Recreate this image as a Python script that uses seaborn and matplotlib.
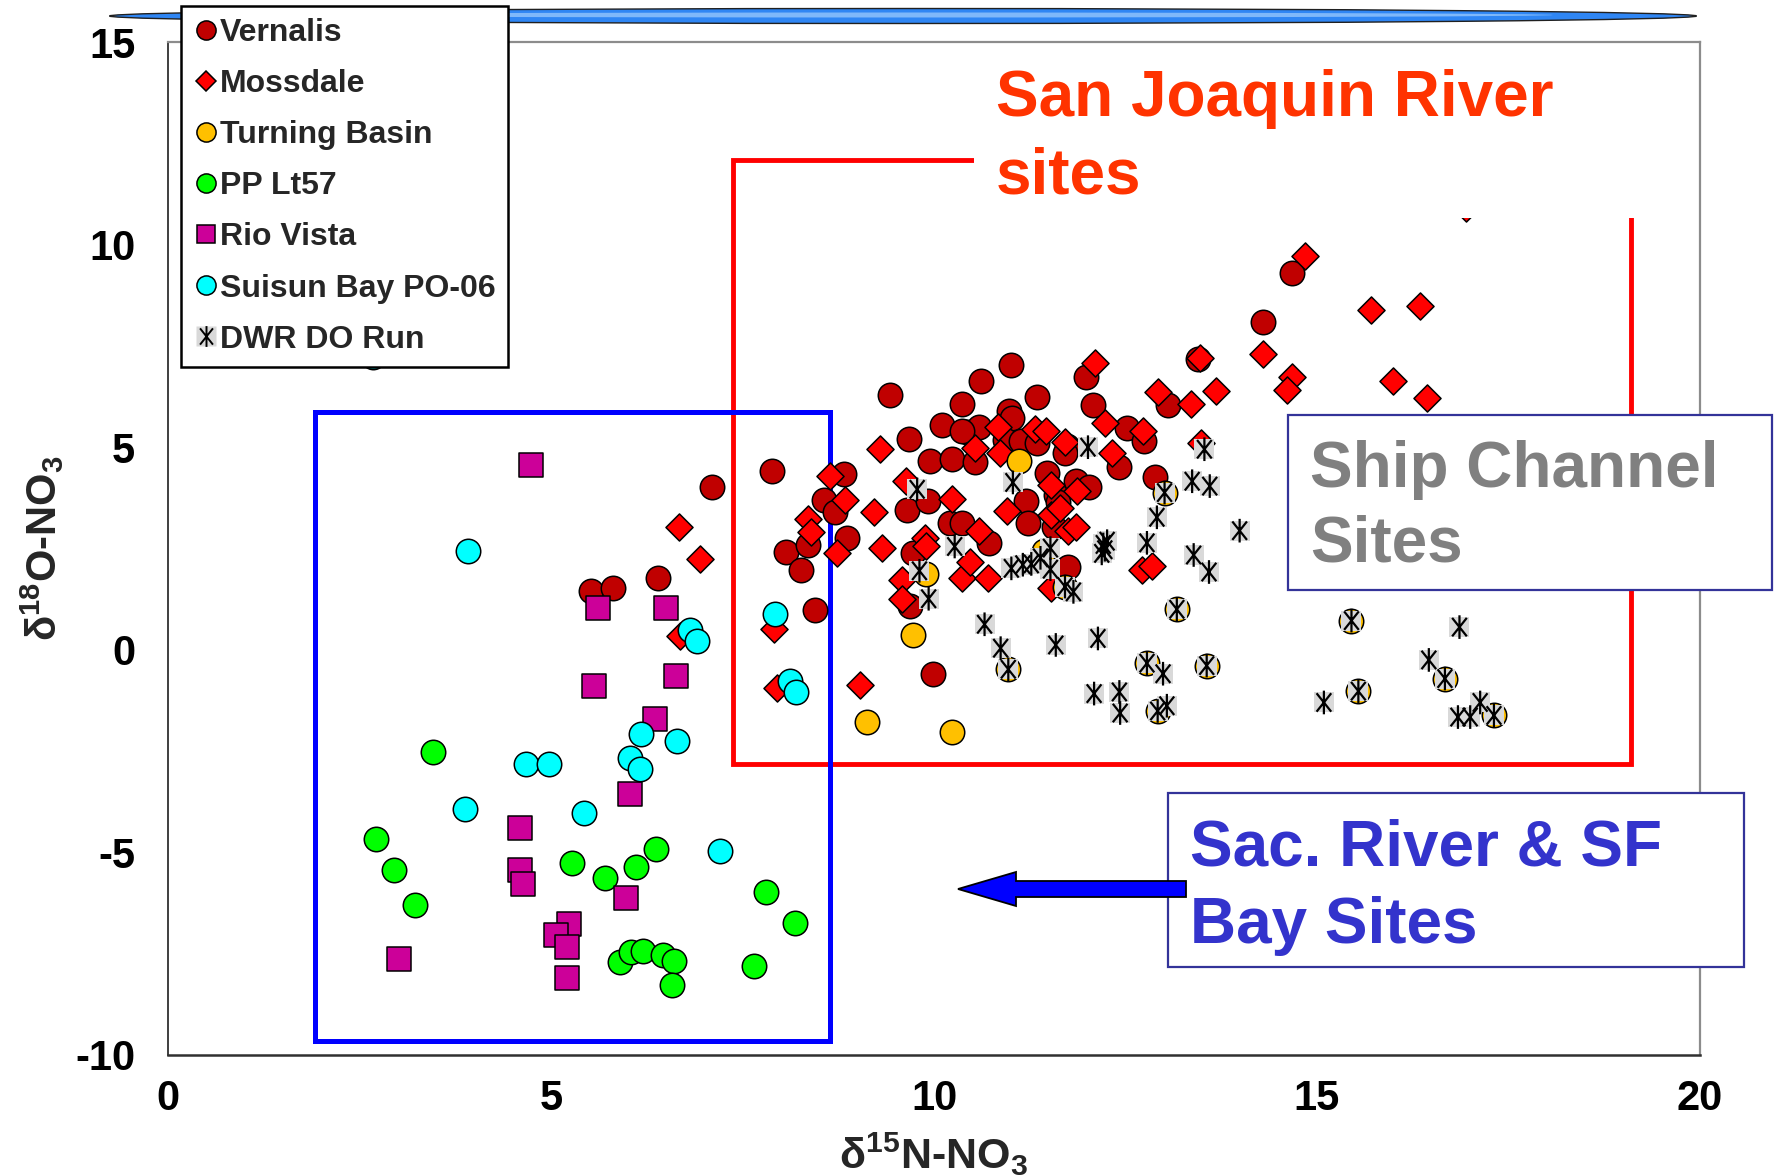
import matplotlib
matplotlib.use("Agg")
import matplotlib.pyplot as plt
import seaborn as sns
from matplotlib.patches import Rectangle, Ellipse, Polygon
from matplotlib.lines import Line2D
from matplotlib.path import Path

W, H = 1781, 1176

# ---------------- data (d15N, d18O) ----------------
vernalis_x = [5.52, 5.81, 6.40, 7.10, 7.89, 8.44, 8.07, 8.26, 8.35, 8.57, 8.71, 8.82, 8.87,
              9.42, 9.67, 9.95, 10.24, 10.54, 9.65, 9.92, 10.21, 10.36, 10.72,
              9.72, 9.69, 9.99, 10.11, 10.36, 10.61, 11.00, 10.43, 10.59, 10.36,
              10.98, 11.02, 11.34, 10.93, 11.14, 11.34, 11.73, 11.20, 11.23, 11.48,
              11.59, 11.62, 11.85, 12.03, 11.75, 11.57, 11.71, 11.98, 12.08, 12.52,
              12.41, 12.74, 13.06, 12.89, 13.45, 14.68, 14.30]
vernalis_y = [1.45, 1.53, 1.77, 4.02, 4.41, 0.97, 2.41, 1.98, 2.59, 3.69, 3.39, 4.35, 2.77,
              6.28, 5.21, 4.65, 4.72, 4.63, 3.46, 3.68, 3.13, 3.12, 2.64,
              2.38, 1.08, -0.60, 5.54, 6.06, 6.64, 7.03, 5.37, 5.50, 5.41,
              5.89, 5.73, 6.23, 5.19, 5.15, 5.11, 5.02, 3.68, 3.12, 4.37,
              3.81, 3.64, 4.16, 4.03, 2.04, 3.03, 4.85, 6.74, 6.04, 5.47,
              4.52, 5.15, 6.04, 4.27, 7.18, 9.31, 8.08]

mossdale_x = [6.67, 6.94, 7.91, 6.69, 7.95, 8.36, 8.39, 8.64, 8.84, 8.73,
              9.29, 9.22, 9.32, 9.64, 10.24, 9.88, 9.90, 9.58, 9.58, 10.36,
              10.47, 10.70, 10.59, 10.54, 10.84, 10.86, 10.95, 11.32, 11.46, 11.71,
              11.53, 11.87, 11.53, 11.64, 11.75, 11.85, 11.53, 12.10, 12.23, 12.32,
              12.73, 12.93, 13.36, 13.68, 13.49, 13.47, 12.71, 12.84, 9.04, 14.84,
              15.70, 16.34, 14.30, 14.67, 14.61, 15.99, 16.43, 16.95]
mossdale_y = [3.02, 2.25, 0.51, 0.35, -0.94, 3.22, 2.91, 4.30, 3.70, 2.38,
              4.95, 3.39, 2.51, 4.16, 3.72, 2.77, 2.55, 1.73, 1.26, 1.78,
              2.17, 1.78, 2.94, 4.98, 5.50, 4.85, 3.42, 5.45, 5.41, 5.14,
              4.07, 3.91, 3.33, 3.51, 2.94, 3.03, 1.52, 7.07, 5.59, 4.85,
              5.39, 6.37, 6.07, 6.39, 5.10, 7.20, 1.97, 2.06, -0.86, 9.73,
              8.39, 8.48, 7.30, 6.73, 6.40, 6.64, 6.21, 10.90]

turning_x = [11.11, 9.73, 9.13, 10.23, 9.90, 10.97, 11.43, 11.71, 12.78, 12.92,
             13.17, 13.01, 13.56, 15.45, 15.54, 16.67, 17.31]
turning_y = [4.65, 0.37, -1.79, -2.03, 1.86, -0.48, 2.43, 1.56, -0.33, -1.51,
             1.00, 3.88, -0.39, 0.72, -1.02, -0.71, -1.62]

pp_x = [3.46, 2.71, 2.95, 3.22, 5.28, 5.71, 6.11, 6.37, 7.81, 8.18, 7.65,
        5.90, 6.04, 6.20, 6.46, 6.60, 6.58]
pp_y = [-2.51, -4.66, -5.43, -6.29, -5.25, -5.64, -5.35, -4.91, -5.97, -6.74, -7.81,
        -7.70, -7.46, -7.44, -7.52, -7.68, -8.27]

rio_x = [4.74, 5.62, 6.50, 5.56, 6.63, 6.36, 6.03, 4.59, 4.59, 4.63, 5.98,
         5.24, 5.07, 5.21, 5.21, 3.01]
rio_y = [4.55, 1.04, 1.02, -0.90, -0.65, -1.72, -3.56, -4.40, -5.43, -5.78, -6.13,
         -6.77, -7.04, -7.34, -8.11, -7.62]

suisun_x = [2.67, 3.91, 6.81, 6.90, 7.92, 8.12, 8.20, 6.17, 6.65, 6.03, 6.16,
            4.67, 4.98, 3.88, 5.43, 7.20]
suisun_y = [7.23, 2.45, 0.48, 0.21, 0.88, -0.76, -1.04, -2.09, -2.24, -2.68, -2.95,
            -2.83, -2.83, -3.93, -4.02, -4.97]

dwr_x = [9.78, 11.03, 10.27, 9.81, 9.93, 10.66, 10.87, 10.97, 11.59, 12.14,
         12.09, 12.42, 12.43, 12.78, 12.99, 12.92, 13.04, 13.56, 13.17, 13.01,
         12.01, 13.53, 13.37, 13.60, 12.91, 12.78, 13.39, 13.59, 13.99, 12.21,
         12.23, 12.19, 12.26, 11.01, 11.16, 11.27, 11.39, 11.52, 11.52, 11.71,
         11.82, 15.45, 16.86, 16.46, 16.67, 15.54, 15.09, 17.31, 17.13, 16.84, 17.00]
dwr_y = [3.96, 4.13, 2.55, 1.95, 1.26, 0.63, 0.04, -0.48, 0.12, 0.28,
         -1.08, -1.04, -1.56, -0.33, -0.59, -1.51, -1.38, -0.39, 1.00, 3.88,
         5.00, 4.95, 4.16, 4.04, 3.27, 2.64, 2.34, 1.92, 2.94, 2.60,
         2.47, 2.38, 2.68, 2.01, 2.10, 2.12, 2.27, 2.51, 1.99, 1.56,
         1.43, 0.72, 0.56, -0.25, -0.71, -1.02, -1.30, -1.62, -1.30, -1.66, -1.66]

labels = ["Vernalis", "Mossdale", "Turning Basin", "PP Lt57", "Rio Vista",
          "Suisun Bay PO-06", "DWR DO Run"]
x_ticks = [0, 5, 10, 15, 20]
y_ticks = [-10, -5, 0, 5, 10, 15]

# ---------------- style ----------------
sns.set_style("white")
plt.rcParams["font.family"] = ["Liberation Sans", "DejaVu Sans"]
plt.rcParams["font.weight"] = "bold"
plt.rcParams["axes.unicode_minus"] = False
plt.rcParams["mathtext.fontset"] = "custom"
plt.rcParams["mathtext.rm"] = "Liberation Sans:bold"
plt.rcParams["mathtext.it"] = "Liberation Sans:bold"
plt.rcParams["mathtext.bf"] = "Liberation Sans:bold"


def fx(px):
    return px / W


def fy(py):
    return 1 - py / H


fig = plt.figure(figsize=(W / 100, H / 100), dpi=100)
fig.patch.set_facecolor("white")
ax = fig.add_axes([fx(168), fy(1055), (1700 - 168) / W, (1055 - 42) / H])

ast_path = Path([(0, -1), (0, 1), (-0.62, -0.78), (0.62, 0.78), (-0.62, 0.78), (0.62, -0.78)],
                [Path.MOVETO, Path.LINETO] * 3)

C_VER, C_MOS, C_TB, C_PP, C_RV, C_SB, C_GR = ("#C00000", "#FF0000", "#FFC000", "#00FF00",
                                              "#CC0099", "#00FFFF", "#D9D9D9")

kw = dict(ax=ax, legend=False, edgecolor="black", linewidth=1.1)
sns.scatterplot(x=vernalis_x, y=vernalis_y, marker="o", s=310, color=C_VER, zorder=3, **kw)
sns.scatterplot(x=mossdale_x, y=mossdale_y, marker="D", s=190, color=C_MOS, zorder=4, **kw)
sns.scatterplot(x=turning_x, y=turning_y, marker="o", s=310, color=C_TB, zorder=5, **kw)
sns.scatterplot(x=pp_x, y=pp_y, marker="o", s=310, color=C_PP, zorder=6, **kw)
sns.scatterplot(x=rio_x, y=rio_y, marker="s", s=295, color=C_RV, zorder=7, **kw)
sns.scatterplot(x=suisun_x, y=suisun_y, marker="o", s=310, color=C_SB, zorder=8, **kw)
sns.scatterplot(x=dwr_x, y=dwr_y, marker="s", s=225, color=C_GR, linewidth=0, ax=ax,
                legend=False, zorder=9)
sns.scatterplot(x=dwr_x, y=dwr_y, marker=ast_path, s=290, color="black", facecolor="none",
                edgecolor="black", linewidth=1.6, ax=ax, legend=False, zorder=10)

ax.set_xlim(0, 20)
ax.set_ylim(-10, 15)
ax.set_xticks(x_ticks)
ax.set_yticks(y_ticks)
ax.set_xticklabels([str(v) for v in x_ticks])
ax.set_yticklabels([str(v) for v in y_ticks])
ax.tick_params(axis="both", direction="out", length=8.6, width=1.2, colors="#404040",
               labelcolor="black", labelsize=30)
ax.tick_params(axis="y", pad=15)
ax.tick_params(axis="x", pad=9)
ax.set_facecolor("white")
ax.grid(False)
for side in ["top", "right"]:
    ax.spines[side].set_color("#8C8C8C")
    ax.spines[side].set_linewidth(1.6)
ax.spines["left"].set_color("#303030")
ax.spines["left"].set_linewidth(1.3)
ax.spines["bottom"].set_color("#303030")
ax.spines["bottom"].set_linewidth(1.8)

ax.set_xlabel("δ$^{15}$N-NO$_3$", fontsize=31, fontweight="bold")
ax.set_ylabel("δ$^{18}$O-NO$_3$", fontsize=30, fontweight="bold")
ax.xaxis.set_label_coords(0.5, (1055 - 1131) / 1013)
ax.yaxis.set_label_coords((66 - 168) / 1532, 0.5)

# region rectangles (data coordinates)
ax.add_patch(Rectangle((7.38, -2.82), 19.10 - 7.38, 12.09 + 2.82, fill=False,
                       edgecolor="#FF0000", linewidth=3.5, zorder=1))
ax.add_patch(Rectangle((1.92, -9.65), 8.64 - 1.92, 5.86 + 9.65, fill=False,
                       edgecolor="#0000FF", linewidth=3.6, zorder=1))

# ---------------- figure-level annotations ----------------
fig.add_artist(Ellipse((fx(903), fy(16)), 1587 / W, 15 / H, transform=fig.transFigure,
                       facecolor="#2F86F4", edgecolor="#202020", linewidth=1.0, zorder=1))
fig.add_artist(Ellipse((fx(903), fy(15)), 1300 / W, 5 / H, transform=fig.transFigure,
                       facecolor="#7FB8FA", edgecolor="none", zorder=1.1))

fig.add_artist(Rectangle((fx(974), fy(218)), (1660 - 974) / W, (218 - 45) / H,
                         transform=fig.transFigure, facecolor="white", edgecolor="none",
                         zorder=2))
fig.text(fx(996), fy(116), "San Joaquin River", color="#FF3300", fontsize=46,
         fontweight="bold", ha="left", va="baseline", zorder=3)
fig.text(fx(996), fy(193), "sites", color="#FF3300", fontsize=46,
         fontweight="bold", ha="left", va="baseline", zorder=3)

fig.add_artist(Rectangle((fx(1288), fy(590)), (1772 - 1288) / W, (590 - 415) / H,
                         transform=fig.transFigure, facecolor="white", edgecolor="#333399",
                         linewidth=1.6, zorder=2))
fig.text(fx(1310), fy(487), "Ship Channel", color="#808080", fontsize=46,
         fontweight="bold", ha="left", va="baseline", zorder=3)
fig.text(fx(1310), fy(562), "Sites", color="#808080", fontsize=46,
         fontweight="bold", ha="left", va="baseline", zorder=3)

fig.add_artist(Rectangle((fx(1168), fy(967)), (1744 - 1168) / W, (967 - 793) / H,
                         transform=fig.transFigure, facecolor="white", edgecolor="#333399",
                         linewidth=1.6, zorder=2))
fig.text(fx(1190), fy(866), "Sac. River & SF", color="#3333CC", fontsize=46,
         fontweight="bold", ha="left", va="baseline", zorder=3)
fig.text(fx(1190), fy(943), "Bay Sites", color="#3333CC", fontsize=46,
         fontweight="bold", ha="left", va="baseline", zorder=3)

arrow_px = [(958, 889), (1016, 872), (1016, 881), (1186, 881), (1186, 897), (1016, 897),
            (1016, 906)]
fig.add_artist(Polygon([(fx(a), fy(b)) for a, b in arrow_px], closed=True,
                       transform=fig.transFigure, facecolor="#0000FF", edgecolor="black",
                       linewidth=1.3, zorder=4))

# ---------------- legend ----------------
def mk(marker, ms, fc):
    return Line2D([], [], linestyle="", marker=marker, markersize=ms, markerfacecolor=fc,
                  markeredgecolor="black", markeredgewidth=1.1)


handles = [mk("o", 13.8, C_VER), mk("D", 10.0, C_MOS), mk("o", 13.8, C_TB),
           mk("o", 13.8, C_PP), mk("s", 13.6, C_RV), mk("o", 13.8, C_SB),
           (Line2D([], [], linestyle="", marker="s", markersize=14.5, markerfacecolor=C_GR,
                   markeredgecolor="none"),
            Line2D([], [], linestyle="", marker=ast_path, markersize=15,
                   markerfacecolor="none", markeredgecolor="black", markeredgewidth=1.4))]
leg = fig.legend(handles, labels, loc="upper left", bbox_to_anchor=(fx(181), fy(6)),
                 bbox_transform=fig.transFigure, borderaxespad=0, frameon=True,
                 fancybox=False, framealpha=1, edgecolor="black",
                 prop={"weight": "bold", "size": 23}, borderpad=0.38, labelspacing=0.66,
                 handlelength=0.82, handletextpad=0.02)
leg.get_frame().set_linewidth(1.8)
leg.set_zorder(10)

fig.savefig("out.png", dpi=100, facecolor="white")
